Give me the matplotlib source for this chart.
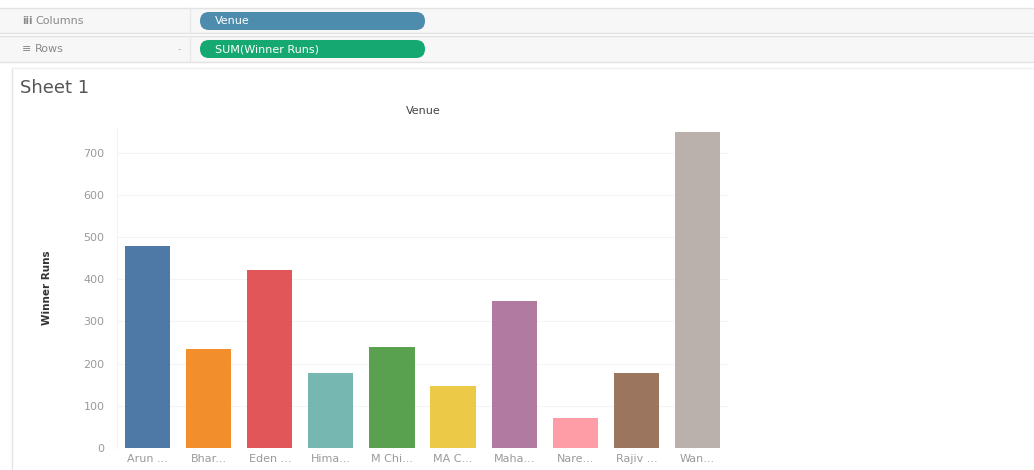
import matplotlib.pyplot as plt
from matplotlib.patches import FancyBboxPatch, Rectangle

venues = ['Arun ...', 'Bhar...', 'Eden ...', 'Hima...', 'M Chi...',
          'MA C...', 'Maha...', 'Nare...', 'Rajiv ...', 'Wan...']
winner_runs = [479, 234, 422, 178, 240, 148, 349, 72, 178, 750]
colors = ['#4e79a7', '#f28e2b', '#e15759', '#76b7b2', '#59a14f',
          '#edc948', '#b07aa1', '#ff9da7', '#9c755f', '#bab0ac']
yticks = [0, 100, 200, 300, 400, 500, 600, 700]

W, H = 1034, 470
fig = plt.figure(figsize=(W / 100, H / 100), dpi=100)
fig.patch.set_facecolor('white')

# overlay in pixel units for the Tableau chrome
bg = fig.add_axes([0, 0, 1, 1], zorder=0)
bg.set_xlim(0, W)
bg.set_ylim(H, 0)
bg.axis('off')

for y0, y1 in [(8, 33), (36, 62)]:
    bg.add_patch(Rectangle((0, y0), W, y1 - y0, facecolor='#f7f7f7', edgecolor='none'))
    bg.plot([0, W], [y0, y0], color='#e2e2e2', lw=1)
    bg.plot([0, W], [y1, y1], color='#e2e2e2', lw=1)
    bg.plot([190, 190], [y0, y1], color='#e8e8e8', lw=1)

bg.text(22, 21, 'iii', fontsize=7, color='#888888', va='center', fontweight='bold')
bg.text(35, 21, 'Columns', fontsize=8, color='#8a8a8a', va='center')
bg.text(22, 49, '≡', fontsize=8, color='#888888', va='center')
bg.text(35, 49, 'Rows', fontsize=8, color='#8a8a8a', va='center')
bg.text(178, 49, '-', fontsize=7, color='#bbbbbb', va='center')

pills = [(12, 30, '#4d8cad', 'Venue'), (40, 58, '#15a870', 'SUM(Winner Runs)')]
for y0, y1, c, label in pills:
    bg.add_patch(FancyBboxPatch((200, y0), 225, y1 - y0,
                                boxstyle='round,pad=0,rounding_size=9',
                                facecolor=c, edgecolor='none'))
    bg.text(215, (y0 + y1) / 2 + 0.5, label, fontsize=8, color='white', va='center')

bg.plot([12, 12], [68, H], color='#e4e4e4', lw=1)
bg.plot([12, W], [68, 68], color='#f0f0f0', lw=1)

bg.text(20, 88, 'Sheet 1', fontsize=13, color='#555555', va='center')
bg.text(423, 111, 'Venue', fontsize=8, color='#444444', va='center', ha='center')
bg.text(47, 288, 'Winner Runs', rotation=90, fontsize=7.5, color='#333333',
        va='center', ha='center', fontweight='bold', family='Liberation Sans Narrow')

# chart
ax = fig.add_axes([117 / W, 1 - 448 / H, (728 - 117) / W, (448 - 127.5) / H], zorder=1)
ax.patch.set_alpha(0)
ax.bar(range(len(venues)), winner_runs, width=0.74, color=colors, zorder=3)
ax.set_xlim(-0.5, len(venues) - 0.5)
ax.set_ylim(0, 760)
ax.set_yticks(yticks)
ax.set_yticklabels([str(t) for t in yticks])
ax.set_xticks(range(len(venues)))
ax.set_xticklabels(venues)
ax.tick_params(axis='both', length=0, labelsize=8, colors='#9a9a9a')
ax.tick_params(axis='y', pad=9)
ax.tick_params(axis='x', pad=4)
ax.yaxis.grid(True, color='#f4f4f4', lw=0.8)
ax.set_axisbelow(True)
for s in ax.spines.values():
    s.set_visible(False)
ax.spines['left'].set_visible(True)
ax.spines['left'].set_color('#f2f2f2')

fig.savefig('out.png', dpi=100)
